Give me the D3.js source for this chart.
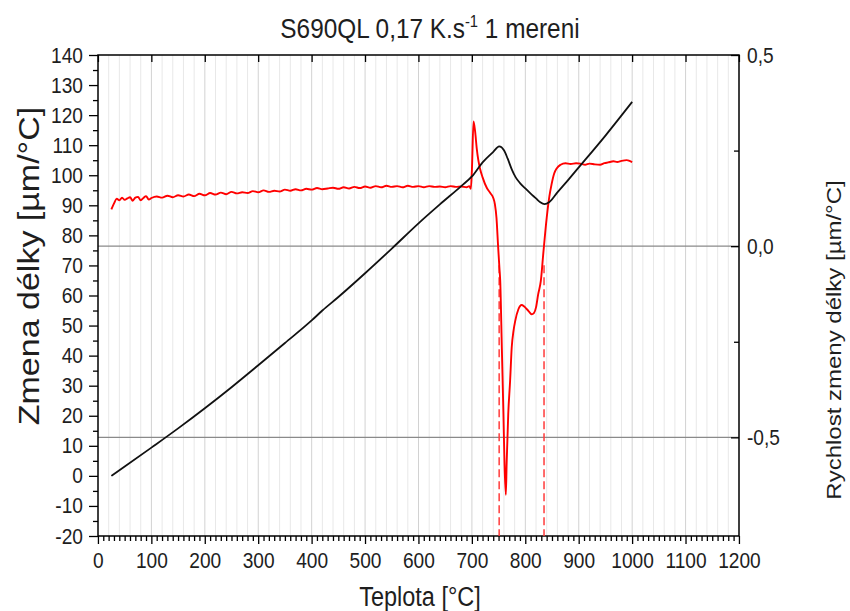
<!DOCTYPE html>
<html lang="en">
<head>
  <meta charset="UTF-8">
  <title>S690QL 0,17 K.s-1 1 mereni</title>
  <script src="https://cdnjs.cloudflare.com/ajax/libs/d3/7.8.5/d3.min.js"></script>
  <style>
    body { margin: 0; background: #fff; }
    svg text { font-family: "Liberation Sans", Arial, sans-serif; fill: #1e1e1e; }
    svg path, svg line { vector-effect: non-scaling-stroke; }
    .axis line { stroke: #000; stroke-width: 1.3; }
    .axis .domain { display: none; }
  </style>
</head>
<body>
  <svg id="chart"></svg>
  <script>
    // zmena delky [µm] podle teploty (cerna krivka, leva osa)
    var tempDelka = [25, 50, 100, 150, 200, 250, 300, 350, 400, 420, 450, 500, 550, 600, 640, 680, 700, 720, 740, 751,
      760, 767, 775, 782, 790, 800, 810, 820, 828, 836, 845, 860, 880, 900, 950, 1000];
    var zmenaDelky = [0, 3.1, 9.4, 15.8, 22.5, 29.5, 36.8, 44.2, 51.7, 55.0, 59.5, 67.4, 75.6, 84.0, 90.3, 96.4, 99.6, 104.3, 107.8, 109.6,
      108.3, 105.5, 101.8, 99.3, 97.4, 95.6, 93.9, 92.3, 91.0, 90.4, 91.1, 94.3, 98.4, 102.6, 113.2, 124.4];

    // rychlost zmeny delky [µm/°C] (cervena krivka, prava osa)
    var tempRychlost = [25, 30, 35, 40, 45, 50, 55, 60, 65, 70, 75, 80, 85, 90, 95, 100,
      110, 120, 130, 140, 150, 160, 170, 180, 190, 200, 210, 220, 230, 240, 250, 260, 270, 280, 290, 300,
      310, 320, 330, 340, 350, 360, 370, 380, 390, 400, 410, 420, 430, 440, 450, 460, 470, 480, 490, 500,
      510, 520, 530, 540, 550, 560, 570, 580, 590, 600, 610, 620, 630, 640, 650, 660, 670, 680, 690, 695, 698,
      700, 703, 706, 709, 712, 715, 720, 728, 735, 740, 743, 746, 749, 751.5, 753, 756, 759, 761, 763.5,
      765, 768, 771.5, 774.5, 778, 781, 787, 793, 798, 803, 808, 812, 816, 820, 824, 829, 834, 840, 845, 849,
      854, 859, 866, 875, 885, 895, 903, 912, 920, 930, 940, 948, 955, 965, 972, 980, 990, 995, 1000];
    var rychlost = [0.096, 0.112, 0.124, 0.120, 0.127, 0.121, 0.125, 0.128, 0.119, 0.127, 0.129, 0.120, 0.126, 0.131, 0.122, 0.126,
      0.130, 0.127, 0.132, 0.128, 0.133, 0.130, 0.135, 0.131, 0.137, 0.133, 0.139, 0.135, 0.140, 0.136, 0.142, 0.138, 0.141, 0.139, 0.144, 0.141,
      0.146, 0.142, 0.145, 0.143, 0.148, 0.145, 0.149, 0.146, 0.150, 0.148, 0.152, 0.149, 0.151, 0.153, 0.150, 0.154, 0.151, 0.155, 0.152, 0.156,
      0.153, 0.157, 0.154, 0.158, 0.155, 0.157, 0.154, 0.158, 0.155, 0.157, 0.154, 0.157, 0.155, 0.156, 0.154, 0.157, 0.155, 0.156, 0.154, 0.157, 0.150,
      0.200, 0.326, 0.300, 0.256, 0.225, 0.204, 0.180, 0.152, 0.138, 0.126, 0.110, 0.074, 0.000, -0.057, -0.091, -0.265, -0.439, -0.569, -0.650,
      -0.569, -0.439, -0.352, -0.265, -0.220, -0.196, -0.165, -0.154, -0.158, -0.165, -0.173, -0.178, -0.175, -0.160, -0.126, -0.091, -0.013, 0.074, 0.130, 0.161,
      0.190, 0.204, 0.213, 0.217, 0.215, 0.217, 0.216, 0.213, 0.216, 0.214, 0.213, 0.217, 0.219, 0.222, 0.220, 0.223, 0.225, 0.223, 0.220];

    var xTicks = d3.range(0, 1201, 100);
    var yTicks = d3.range(-20, 141, 10);
    var y2Ticks = [-0.5, 0, 0.5];
    var premeny = [751, 835]; // teploty premen - carkovane cary

    var sx = 0.87; // text v originale je trochu stlaceny do sirky
    var W = 850, H = 611;
    var m = { left: 98 / sx, right: 739 / sx, top: 55, bottom: 536 };

    var svg = d3.select("#chart")
      .attr("width", W)
      .attr("height", H)
      .attr("viewBox", "0 0 " + (W / sx) + " " + H)
      .attr("preserveAspectRatio", "none");

    var x = d3.scaleLinear().domain([0, 1200]).range([m.left, m.right]);
    var y = d3.scaleLinear().domain([-20, 140]).range([m.bottom, m.top]);
    var y2 = d3.scaleLinear().domain([-0.758, 0.5]).range([m.bottom, m.top]);

    // svisla mrizka
    svg.append("g").selectAll("line")
      .data(d3.range(20, 1200, 20))
      .enter().append("line")
      .attr("x1", x).attr("x2", x)
      .attr("y1", m.top).attr("y2", m.bottom)
      .attr("stroke", function (d) { return d % 100 === 0 ? "#d2d2d2" : "#e8e8e8"; })
      .attr("stroke-width", 1);

    // vodorovne cary prave osy
    svg.append("g").selectAll("line")
      .data([0, -0.5])
      .enter().append("line")
      .attr("x1", m.left).attr("x2", m.right)
      .attr("y1", y2).attr("y2", y2)
      .attr("stroke", "#8a8a8a")
      .attr("stroke-width", 1.2);

    var fmtL = function (d) { return String(d); };
    var fmtR = function (d) { return d.toFixed(1).replace(".", ","); };

    function styleAxis(g, size) {
      g.attr("font-size", null).attr("font-family", null);
      g.selectAll("text").style("font-size", size + "px");
    }

    // spodni osa
    svg.append("g").attr("class", "axis")
      .attr("transform", "translate(0," + m.bottom + ")")
      .call(d3.axisBottom(x).tickValues(d3.range(0, 1201, 10).filter(function (d) { return d % 100; }))
        .tickFormat("").tickSize(5));
    svg.append("g").attr("class", "axis")
      .attr("transform", "translate(0," + m.bottom + ")")
      .call(d3.axisBottom(x).tickValues(xTicks).tickFormat(fmtL).tickSize(8).tickPadding(8))
      .call(styleAxis, 22);

    // horni osa - jen ticky dovnitr
    svg.append("g").attr("class", "axis")
      .attr("transform", "translate(0," + m.top + ")")
      .call(d3.axisBottom(x).tickValues(xTicks).tickFormat("").tickSize(7));

    // leva osa
    svg.append("g").attr("class", "axis")
      .attr("transform", "translate(" + m.left + ",0)")
      .call(d3.axisLeft(y).tickValues(d3.range(-15, 140, 10)).tickFormat("").tickSize(5 / sx));
    svg.append("g").attr("class", "axis")
      .attr("transform", "translate(" + m.left + ",0)")
      .call(d3.axisLeft(y).tickValues(yTicks).tickFormat(fmtL).tickSize(9 / sx).tickPadding(6 / sx))
      .call(styleAxis, 22);

    // prava osa
    svg.append("g").attr("class", "axis")
      .attr("transform", "translate(" + m.right + ",0)")
      .call(d3.axisLeft(y2).tickValues([-0.25, 0.25]).tickFormat("").tickSize(5 / sx));
    svg.append("g").attr("class", "axis")
      .attr("transform", "translate(" + m.right + ",0)")
      .call(d3.axisLeft(y2).tickValues(y2Ticks).tickFormat("").tickSize(8 / sx));
    svg.append("g").attr("class", "axis")
      .attr("transform", "translate(" + m.right + ",0)")
      .call(d3.axisRight(y2).tickValues(y2Ticks).tickFormat(fmtR).tickSize(0).tickPadding(8 / sx))
      .call(styleAxis, 22);

    // ramecek
    svg.append("rect")
      .attr("x", m.left).attr("y", m.top)
      .attr("width", m.right - m.left).attr("height", m.bottom - m.top)
      .attr("fill", "none").attr("stroke", "#000").attr("stroke-width", 1.5)
      .style("vector-effect", "non-scaling-stroke");

    // carkovane cary premen
    svg.append("g").selectAll("line")
      .data(premeny)
      .enter().append("line")
      .attr("x1", x).attr("x2", x)
      .attr("y1", y2(-0.05)).attr("y2", m.bottom)
      .attr("stroke", "#ff3b3b")
      .attr("stroke-width", 1.5)
      .attr("stroke-dasharray", "8,4");

    var delka = d3.zip(tempDelka, zmenaDelky);
    var rych = d3.zip(tempRychlost, rychlost);

    svg.append("path")
      .datum(rych)
      .attr("fill", "none")
      .attr("stroke", "#ff0000")
      .attr("stroke-width", 1.9)
      .attr("d", d3.line().x(function (d) { return x(d[0]); }).y(function (d) { return y2(d[1]); })
        .curve(d3.curveMonotoneX));

    svg.append("path")
      .datum(delka)
      .attr("fill", "none")
      .attr("stroke", "#111")
      .attr("stroke-width", 1.8)
      .attr("d", d3.line().x(function (d) { return x(d[0]); }).y(function (d) { return y(d[1]); })
        .curve(d3.curveMonotoneX));

    // titulek
    var title = svg.append("text")
      .attr("x", 430 / sx).attr("y", 38)
      .attr("text-anchor", "middle")
      .style("font-size", "28px");
    title.append("tspan").text("S690QL 0,17 K.s");
    title.append("tspan").attr("dy", -11).style("font-size", "17px").text("-1");
    title.append("tspan").attr("dy", 11).text(" 1 mereni");

    svg.append("text")
      .attr("x", 420 / sx).attr("y", 606)
      .attr("text-anchor", "middle")
      .style("font-size", "27px")
      .text("Teplota [°C]");

    svg.append("text")
      .attr("transform", "translate(" + (39 / sx) + ",266) rotate(-90)")
      .attr("text-anchor", "middle")
      .style("font-size", "34px")
      .text("Zmena délky [µm/°C]");

    svg.append("text")
      .attr("transform", "translate(" + (841 / sx) + ",340) rotate(-90)")
      .attr("text-anchor", "middle")
      .style("font-size", "24px")
      .text("Rychlost zmeny délky [µm/°C]");
  </script>
</body>
</html>
